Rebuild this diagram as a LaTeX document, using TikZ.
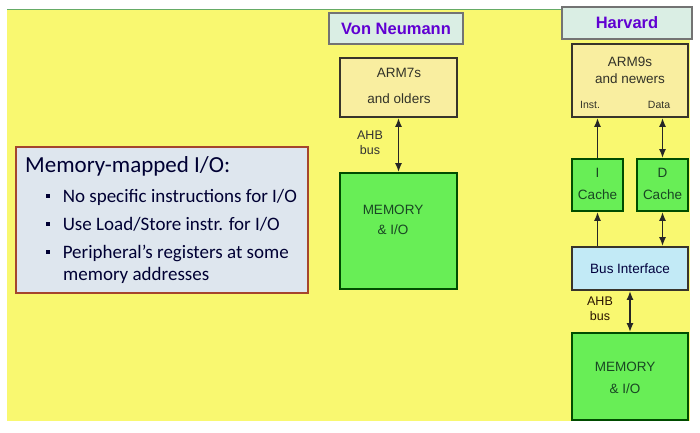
\documentclass[tikz,border=0pt]{standalone}
\usepackage{fontspec}
\setmainfont{Liberation Sans}
\newfontfamily\calib{Carlito}
\usetikzlibrary{arrows.meta}
\definecolor{bgyellow}{RGB}{249,248,112}
\definecolor{armfill}{RGB}{249,238,160}
\definecolor{memfill}{RGB}{104,238,86}
\definecolor{busfill}{RGB}{194,234,246}
\definecolor{ttlfill}{RGB}{218,238,228}
\definecolor{ttltext}{RGB}{96,0,210}
\definecolor{mmfill}{RGB}{222,230,238}
\definecolor{mmborder}{RGB}{165,70,45}
\definecolor{memtext}{RGB}{25,70,35}
\definecolor{armtext}{RGB}{50,50,40}
\tikzset{
  box/.style={draw=black!80!olive, line width=1.7pt, inner sep=0pt},
  armbox/.style={box, fill=armfill, text=armtext},
  membox/.style={draw=black!70!green, line width=1.7pt, fill=memfill, text=memtext, inner sep=0pt},
  busbox/.style={box, fill=busfill, text=black!75!blue},
  ttlbox/.style={draw=black!55, line width=1.2pt, fill=ttlfill, text=ttltext, inner sep=0pt,
     font=\fontsize{16.5}{18}\selectfont\bfseries},
  lbl/.style={inner sep=0pt, align=center, font=\fontsize{13.5}{20}\selectfont},
  dbl/.style={{Latex[length=9pt,width=7pt]}-{Latex[length=9pt,width=7pt]}, line width=1.7pt, black!85},
  sgl/.style={-{Latex[length=9pt,width=7pt]}, line width=1.7pt, black!85},
  mmtxt/.style={inner sep=0pt, anchor=base west, text=black!80!blue, font=\calib\fontsize{19}{22}\selectfont}
}
\newcommand{\sqbul}{\raisebox{0.22em}{\rule{3.6pt}{3.6pt}}}
\begin{document}
\begin{tikzpicture}[x=1pt,y=-1pt]
\useasboundingbox (0,0) rectangle (700,432);
\fill[white] (0,0) rectangle (700,432);
\fill[bgyellow] (7,9) rectangle (690,421);
\draw[black!55!green!60, line width=1pt] (7,9) -- (690,9);

% Von Neumann
\node[ttlbox, minimum width=134pt, minimum height=31pt] (vnt) at (396,28.5) {Von Neumann};
\node[armbox, minimum width=117pt, minimum height=59pt] (arm7) at (398.5,87.5) {};
\node[lbl, text=armtext, font=\fontsize{13.5}{26}\selectfont] (arm7t) at (399,86) {ARM7s\\and olders};
\node[membox, minimum width=117pt, minimum height=116pt] (memv) at (398.5,231) {};
\node[lbl, text=memtext] (memvt) at (393,220) {MEMORY\\\& I/O};
\draw[dbl] (arm7.south) -- (memv.north);
\node[lbl, text=black!80, font=\fontsize{12.5}{15}\selectfont] (ahbv) at (370,143) {AHB\\bus};

% Harvard
\node[ttlbox, minimum width=130pt, minimum height=32pt] (hvt) at (627,23) {Harvard};
\node[armbox, minimum width=116pt, minimum height=73pt] (arm9) at (630,80.5) {};
\node[lbl, text=armtext, font=\fontsize{13.5}{17}\selectfont] (arm9t) at (630,70) {ARM9s\\and newers};
\node[lbl, text=armtext, font=\fontsize{10.5}{12}\selectfont, anchor=base] (inst) at (590,108) {Inst.};
\node[lbl, text=armtext, font=\fontsize{10.5}{12}\selectfont, anchor=base] (data) at (659,108) {Data};
\node[membox, minimum width=51pt, minimum height=52pt] (icache) at (597.5,185) {};
\node[lbl, text=memtext, font=\fontsize{13.5}{22}\selectfont] (icachet) at (597.5,184) {I\\Cache};
\node[membox, minimum width=51pt, minimum height=52pt] (dcache) at (662.5,185) {};
\node[lbl, text=memtext, font=\fontsize{13.5}{22}\selectfont] (dcachet) at (662.5,184) {D\\Cache};
\node[busbox, minimum width=116pt, minimum height=43pt, lbl, text=black!60!blue!60!black] (bus) at (630,268.5) {Bus Interface};
\node[membox, minimum width=116pt, minimum height=87pt] (memh) at (630,376.5) {};
\node[lbl, text=memtext, font=\fontsize{13.5}{22}\selectfont] (memht) at (625,378) {MEMORY\\\& I/O};
\draw[sgl] (icache.north) -- (icache.north |- arm9.south);
\draw[dbl] (dcache.north) -- (dcache.north |- arm9.south);
\draw[sgl] (icache.south |- bus.north) -- (icache.south);
\draw[dbl] (dcache.south |- bus.north) -- (dcache.south);
\draw[dbl] (bus.south -| memh.north) -- (memh.north);
\node[lbl, text=black!60!orange!40!black, font=\fontsize{12.5}{15}\selectfont] (ahbh) at (600,309) {AHB\\bus};

% Memory-mapped I/O
\node[draw=mmborder, line width=1.8pt, fill=mmfill, minimum width=292pt, minimum height=146pt, inner sep=0pt] (mm) at (162,220) {};
\node[mmtxt, font=\calib\fontsize{23}{26}\selectfont] (mmt) at (25,172) {Memory-mapped I/O:};
\node[mmtxt] (b1) at (46,202) {\sqbul\hspace{13pt}No specific instructions for I/O};
\node[mmtxt] (b2) at (46,230) {\sqbul\hspace{13pt}Use Load/Store instr. for I/O};
\node[mmtxt] (b3) at (46,258) {\sqbul\hspace{13pt}Peripheral’s registers at some};
\node[mmtxt] (b4) at (63,280) {memory addresses};
\end{tikzpicture}
\end{document}
